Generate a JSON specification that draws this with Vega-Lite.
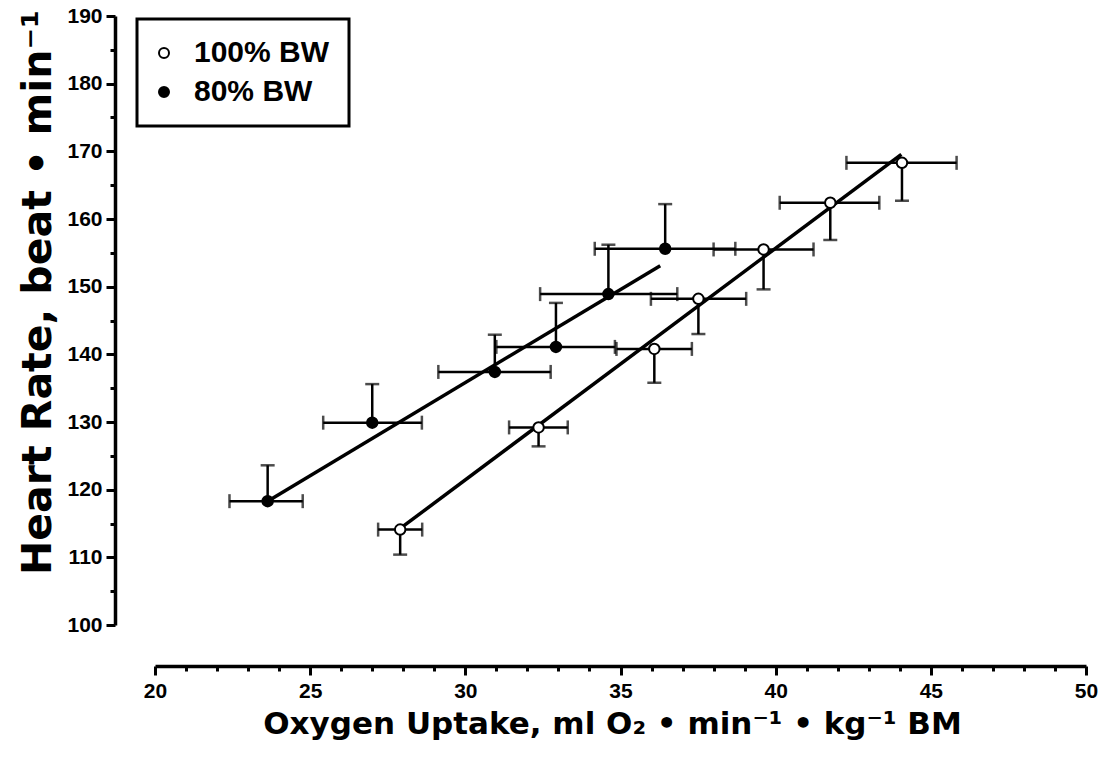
{
  "$schema": "https://vega.github.io/schema/vega-lite/v6.json",
  "width": 931,
  "height": 609,
  "autosize": {"type": "none"},
  "padding": {"left": 155, "top": 16, "right": 18, "bottom": 145},
  "background": "white",
  "config": {
    "view": {"stroke": null},
    "legend": {"strokeColor": "black", "strokeWidth": 3, "fillColor": "white"}
  },
  "datasets": {
    "pts": [
      {"group": "80% BW", "vo2": 23.63, "hr": 118.3, "xlo": 22.4, "xhi": 24.76, "yend": 123.6},
      {"group": "80% BW", "vo2": 27.0, "hr": 129.9, "xlo": 25.42, "xhi": 28.6, "yend": 135.6},
      {"group": "80% BW", "vo2": 30.95, "hr": 137.4, "xlo": 29.13, "xhi": 32.75, "yend": 142.9},
      {"group": "80% BW", "vo2": 32.92, "hr": 141.1, "xlo": 31.0, "xhi": 34.82, "yend": 147.6},
      {"group": "80% BW", "vo2": 34.61, "hr": 148.9, "xlo": 32.41, "xhi": 36.83, "yend": 156.2},
      {"group": "80% BW", "vo2": 36.44, "hr": 155.6, "xlo": 34.17, "xhi": 38.7, "yend": 162.2},
      {"group": "100% BW", "vo2": 27.9, "hr": 114.1, "xlo": 27.19, "xhi": 28.61, "yend": 110.4},
      {"group": "100% BW", "vo2": 32.36, "hr": 129.2, "xlo": 31.41, "xhi": 33.3, "yend": 126.4},
      {"group": "100% BW", "vo2": 36.09, "hr": 140.8, "xlo": 34.87, "xhi": 37.3, "yend": 135.8},
      {"group": "100% BW", "vo2": 37.51, "hr": 148.2, "xlo": 35.98, "xhi": 39.05, "yend": 143.0},
      {"group": "100% BW", "vo2": 39.61, "hr": 155.5, "xlo": 38.0, "xhi": 41.22, "yend": 149.6},
      {"group": "100% BW", "vo2": 41.76, "hr": 162.4, "xlo": 40.13, "xhi": 43.34, "yend": 156.9},
      {"group": "100% BW", "vo2": 44.07, "hr": 168.3, "xlo": 42.28, "xhi": 45.83, "yend": 162.7}
    ],
    "fits": [
      {"group": "80% BW", "vo2": 23.63, "hr": 118.3},
      {"group": "80% BW", "vo2": 36.28, "hr": 153.1},
      {"group": "100% BW", "vo2": 28.0, "hr": 114.6},
      {"group": "100% BW", "vo2": 44.05, "hr": 169.55}
    ]
  },
  "encoding": {
    "x": {
      "field": "vo2", "type": "quantitative",
      "scale": {"domain": [20, 50], "nice": false, "zero": false},
      "axis": {
        "orient": "bottom", "offset": 41, "grid": false,
        "values": [20,21,22,23,24,25,26,27,28,29,30,31,32,33,34,35,36,37,38,39,40,41,42,43,44,45,46,47,48,49,50],
        "labelExpr": "datum.value % 5 === 0 ? datum.label : ''",
        "labelOverlap": false, "labelFlush": false,
        "tickSize": {"condition": {"test": "datum.value % 5 === 0", "value": 9}, "value": 5},
        "tickWidth": 3, "tickColor": "black",
        "domainWidth": 3.5, "domainColor": "black",
        "labelFont": "Liberation Sans", "labelFontWeight": "bold", "labelFontSize": 21, "labelColor": "black", "labelPadding": 5,
        "title": "Oxygen Uptake, ml O₂ • min⁻¹ • kg⁻¹ BM",
        "titleFont": "DejaVu Sans", "titleFontWeight": "bold", "titleFontSize": 31, "titleColor": "black",
        "titleBaseline": "alphabetic", "titleX": 457, "titleY": 67, "titleAlign": "center"
      }
    },
    "y": {
      "field": "hr", "type": "quantitative",
      "scale": {"domain": [100, 190], "nice": false, "zero": false},
      "axis": {
        "orient": "left", "offset": 40, "grid": false,
        "values": [100,105,110,115,120,125,130,135,140,145,150,155,160,165,170,175,180,185,190],
        "labelExpr": "datum.value % 10 === 0 ? datum.label : ''",
        "labelOverlap": false, "labelFlush": false,
        "tickSize": {"condition": {"test": "datum.value % 10 === 0", "value": 9}, "value": 5},
        "tickWidth": 3, "tickColor": "black",
        "domainWidth": 3.5, "domainColor": "black",
        "labelFont": "Liberation Sans", "labelFontWeight": "bold", "labelFontSize": 21, "labelColor": "black", "labelPadding": 4,
        "title": "Heart Rate, beat • min⁻¹",
        "titleFont": "DejaVu Sans", "titleFontWeight": "bold", "titleFontSize": 41, "titleColor": "black",
        "titleAngle": 270, "titleBaseline": "alphabetic", "titleX": -65, "titleY": 276, "titleAlign": "center"
      }
    }
  },
  "layer": [
    {
      "data": {"name": "fits"},
      "mark": {"type": "line", "color": "black", "strokeWidth": 3.5},
      "encoding": {"detail": {"field": "group", "type": "nominal"}}
    },
    {
      "data": {"name": "pts"},
      "mark": {"type": "rule", "color": "black", "strokeWidth": 2.5},
      "encoding": {"x": {"field": "xlo", "type": "quantitative"}, "x2": {"field": "xhi"}}
    },
    {
      "data": {"name": "pts"},
      "mark": {"type": "rule", "color": "black", "strokeWidth": 2.5},
      "encoding": {"y2": {"field": "yend"}}
    },
    {
      "data": {"name": "pts"},
      "mark": {"type": "tick", "orient": "vertical", "color": "black", "size": 14, "thickness": 2.5},
      "encoding": {"x": {"field": "xlo", "type": "quantitative"}}
    },
    {
      "data": {"name": "pts"},
      "mark": {"type": "tick", "orient": "vertical", "color": "black", "size": 14, "thickness": 2.5},
      "encoding": {"x": {"field": "xhi", "type": "quantitative"}}
    },
    {
      "data": {"name": "pts"},
      "mark": {"type": "tick", "orient": "horizontal", "color": "black", "size": 14, "thickness": 2.5},
      "encoding": {"y": {"field": "yend", "type": "quantitative"}}
    },
    {
      "data": {"name": "pts"},
      "mark": {"type": "point", "filled": true, "shape": "circle", "stroke": "black", "strokeWidth": 2, "size": 110, "opacity": 1},
      "encoding": {
        "fill": {
          "field": "group", "type": "nominal",
          "scale": {"domain": ["100% BW", "80% BW"], "range": ["white", "black"]},
          "legend": {
            "title": null, "orient": "none", "legendX": -18, "legendY": 3,
            "padding": 19, "rowPadding": 9,
            "symbolType": "circle", "symbolSize": 100, "symbolStrokeColor": "black", "symbolStrokeWidth": 2,
            "symbolOffset": -7,
            "labelFont": "Liberation Sans", "labelFontWeight": "bold", "labelFontSize": 30, "labelColor": "black",
            "labelOffset": 15
          }
        }
      }
    }
  ]
}
